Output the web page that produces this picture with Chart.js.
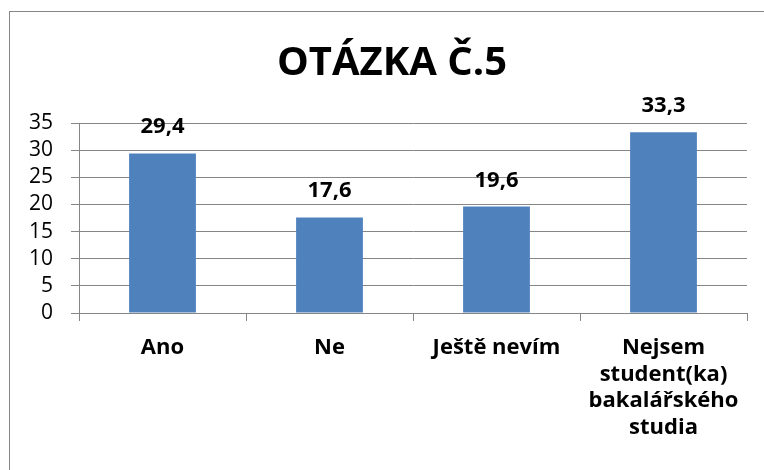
<!DOCTYPE html>
<html>
<head>
<meta charset="utf-8">
<script src="https://cdn.jsdelivr.net/npm/chart.js@4"></script>
<style>
  html, body { margin: 0; padding: 0; background: #fff; }
  #wrap { width: 764px; height: 470px; }
</style>
</head>
<body>
<div id="wrap"><canvas id="chart" width="764" height="470"></canvas></div>
<script>
const categories = ['Ano', 'Ne', 'Ještě nevím', ['Nejsem', 'student(ka)', 'bakalářského', 'studia']];
const values = [29.4, 17.6, 19.6, 33.3];
const yTicks = [0, 5, 10, 15, 20, 25, 30, 35];
const titleText = 'OTÁZKA Č.5';

const FONT = "'Open Sans', sans-serif";
const GRID = '#868686';

// rahmen um das ganze diagramm + überschrift
const framePlugin = {
    id: 'frame',
    beforeDraw(chart) {
        const c = chart.ctx;
        c.save();
        c.fillStyle = '#fff';
        c.fillRect(0, 0, chart.width, chart.height);
        c.strokeStyle = GRID;
        c.lineWidth = 1;
        c.strokeRect(9.5, 11.5, 900, 600);
        c.font = `bold 40px ${FONT}`;
        c.fillStyle = '#000';
        c.textAlign = 'center';
        c.textBaseline = 'alphabetic';
        c.fillText(titleText, 392, 75);
        c.restore();
    }
};

// werte über den balken
const valueLabels = {
    id: 'valueLabels',
    afterDatasetsDraw(chart) {
        const c = chart.ctx;
        const meta = chart.getDatasetMeta(0);
        c.save();
        c.font = `bold 22px ${FONT}`;
        c.fillStyle = '#000';
        c.textAlign = 'center';
        c.textBaseline = 'alphabetic';
        meta.data.forEach((bar, i) => {
            const txt = String(values[i]).replace('.', ',');
            c.fillText(txt, bar.x, bar.y - 20);
        });
        c.restore();
    }
};

const ctx = document.getElementById('chart').getContext('2d');
new Chart(ctx, {
    type: 'bar',
    data: {
        labels: categories,
        datasets: [{
            data: values,
            backgroundColor: '#4F81BD',
            borderWidth: 0,
            barPercentage: 0.4,
            categoryPercentage: 1.0
        }]
    },
    options: {
        responsive: false,
        animation: false,
        layout: { padding: { left: 0, right: 17, top: 123, bottom: 0 } },
        plugins: {
            legend: { display: false },
            tooltip: { enabled: false },
            title: { display: false }
        },
        scales: {
            y: {
                min: 0,
                max: 35,
                afterBuildTicks(scale) {
                    scale.ticks = yTicks.map(v => ({ value: v }));
                },
                afterFit(scale) { scale.width = 79; },
                ticks: {
                    color: '#000',
                    padding: 18,
                    autoSkip: false,
                    font: { family: FONT, size: 21 }
                },
                grid: { color: GRID, lineWidth: 1, tickLength: 8 },
                border: { display: true, color: GRID, width: 1 }
            },
            x: {
                afterFit(scale) { scale.height = 157; },
                ticks: {
                    color: '#000',
                    padding: 14,
                    maxRotation: 0,
                    autoSkip: false,
                    font: { family: FONT, size: 22, weight: 'bold', lineHeight: 1.2 }
                },
                grid: {
                    offset: true,
                    drawOnChartArea: false,
                    drawTicks: true,
                    tickLength: 8,
                    color: GRID
                },
                border: { display: true, color: GRID, width: 1 }
            }
        }
    },
    plugins: [framePlugin, valueLabels]
});
</script>
</body>
</html>
